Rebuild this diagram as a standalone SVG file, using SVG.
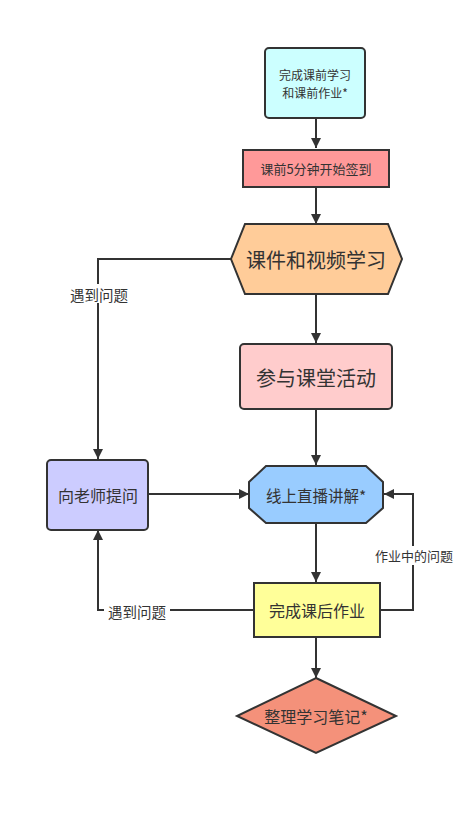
<svg xmlns="http://www.w3.org/2000/svg" width="474" height="816" viewBox="0 0 474 816">
<defs>
<style>
.n{stroke:#333;stroke-width:2}
.t{font-family:"Noto Sans CJK SC","Noto Sans",sans-serif;fill:#333;text-anchor:middle;dominant-baseline:central}
.e{fill:none;stroke:#333;stroke-width:2}
.lb{fill:#fff}
</style>
<marker id="a" viewBox="0 0 10 10" refX="10" refY="5" markerWidth="5" markerHeight="5" markerUnits="strokeWidth" orient="auto">
<path d="M0,0L10,5L0,10z" fill="#333"/>
</marker>
</defs>
<rect width="474" height="816" fill="#fff"/>
<g id="edges">
<path class="e" d="M316,119V148" marker-end="url(#a)"/>
<path class="e" d="M316,187V224" marker-end="url(#a)"/>
<path class="e" d="M316,294V343" marker-end="url(#a)"/>
<path class="e" d="M316,409V465" marker-end="url(#a)"/>
<path class="e" d="M316,523V582" marker-end="url(#a)"/>
<path class="e" d="M316,637V678" marker-end="url(#a)"/>
<path class="e" d="M231,259H98V459" marker-end="url(#a)"/>
<path class="e" d="M148,494H249" marker-end="url(#a)"/>
<path class="e" d="M254,610H98V530" marker-end="url(#a)"/>
<path class="e" d="M380,610H413V494H384" marker-end="url(#a)"/>
<rect class="lb" x="66" y="284" width="66" height="19"/>
<text class="t" x="99" y="294.5" font-size="14.5">遇到问题</text>
<rect class="lb" x="104" y="601" width="66" height="19"/>
<text class="t" x="137" y="611" font-size="14.5">遇到问题</text>
<rect class="lb" x="373" y="546" width="82" height="19"/>
<text class="t" x="414" y="555.5" font-size="13">作业中的问题</text>
</g>
<g id="n1">
<rect class="n" x="265" y="48" width="100" height="70" rx="4" fill="#ccffff"/>
<text class="t" x="315" y="74" font-size="12">完成课前学习</text>
<text class="t" x="315" y="92" font-size="12">和课前作业*</text>
</g>
<g id="n2">
<rect class="n" x="243" y="150" width="146" height="37" fill="#ff9999"/>
<text class="t" x="316" y="168.5" font-size="13">课前5分钟开始签到</text>
</g>
<g id="n3">
<path class="n" d="M245,224H388L402,259L388,294H245L231,259Z" fill="#ffcc99"/>
<text class="t" x="316" y="259" font-size="20">课件和视频学习</text>
</g>
<g id="n4">
<rect class="n" x="240" y="344" width="152" height="65" rx="4" fill="#ffcccc"/>
<text class="t" x="316" y="377" font-size="20">参与课堂活动</text>
</g>
<g id="n5">
<path class="n" d="M266,466H366L383,482V508L366,523H266L249,508V482Z" fill="#99ccff"/>
<text class="t" x="316" y="495" font-size="15.5">线上直播讲解*</text>
</g>
<g id="n6">
<rect class="n" x="254" y="583" width="126" height="54" fill="#ffff99"/>
<text class="t" x="317" y="610" font-size="16">完成课后作业</text>
</g>
<g id="n7">
<path class="n" d="M316,678L396,716L316,753L237,716Z" fill="#f4917a"/>
<text class="t" x="316" y="716" font-size="16">整理学习笔记*</text>
</g>
<g id="n8">
<rect class="n" x="47" y="460" width="101" height="70" rx="4" fill="#ccccff"/>
<text class="t" x="98" y="495" font-size="16">向老师提问</text>
</g>
</svg>
